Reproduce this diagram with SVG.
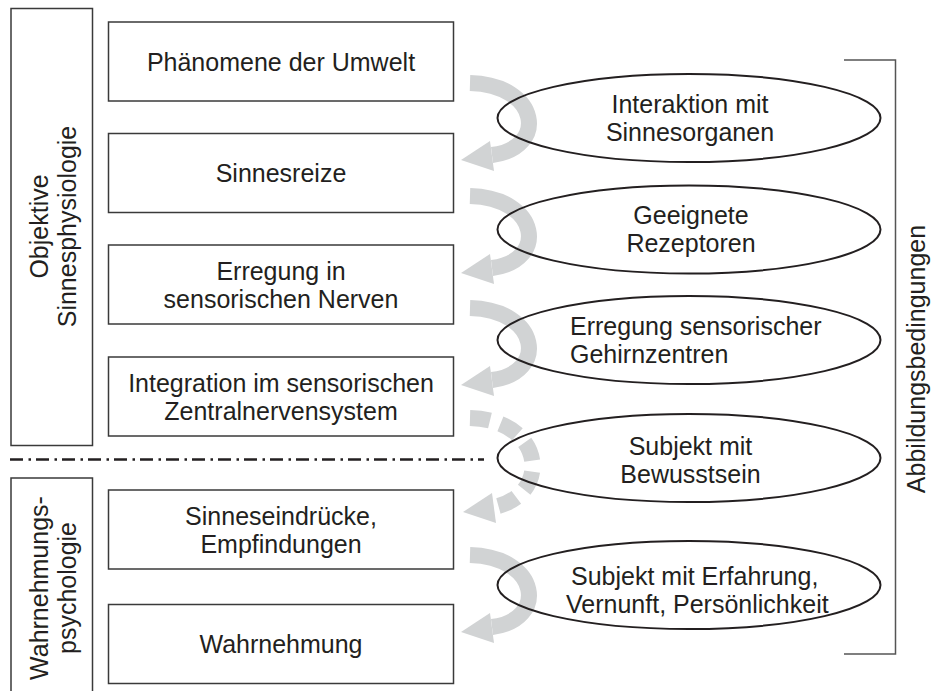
<svg xmlns="http://www.w3.org/2000/svg" width="932" height="691" viewBox="0 0 932 691">
  <defs>
    <style>
      .frame { fill: none; stroke: #3a3a3a; stroke-width: 1.5; }
      .box { fill: #ffffff; stroke: #3a3a3a; stroke-width: 1.5; }
      .oval { fill: none; stroke: #231f20; stroke-width: 2; }
      .bracket { fill: none; stroke: #555555; stroke-width: 1.5; }
      .sep { fill: none; stroke: #231f20; stroke-width: 2.3; stroke-dasharray: 13 5.5 2.5 5; }
      .band { fill: none; stroke: #d1d3d4; stroke-width: 16; }
      .band-dash { fill: none; stroke: #d1d3d4; stroke-width: 16; stroke-dasharray: 20 11; }
      .head { fill: #d1d3d4; }
      text { font-family: "Liberation Sans", Arial, sans-serif; font-size: 25px; fill: #231f20; }
      .c { text-anchor: middle; }
    </style>
    <!-- curved flow arrow, origin at the start of the band -->
    <g id="flow">
      <path class="band" d="M 0 0 C 70 2, 78 65, 22 72"/>
      <polygon class="head" points="-9,77 20,58 24,88"/>
    </g>
  </defs>

  <!-- category frames on the left -->
  <g id="objektive">
    <rect class="frame" x="11" y="8.5" width="81.5" height="437"/>
    <text class="c" transform="translate(52 226.5) rotate(-90)"><tspan x="0" y="-4">Objektive</tspan><tspan x="0" y="24">Sinnesphysiologie</tspan></text>
  </g>
  <g id="wahrnehmungspsychologie">
    <rect class="frame" x="11" y="478" width="81.5" height="230"/>
    <text class="c" transform="translate(52 588) rotate(-90)"><tspan x="0" y="-4">Wahrnehmungs-</tspan><tspan x="0" y="24">psychologie</tspan></text>
  </g>

  <!-- separator between the two domains -->
  <line class="sep" x1="10" y1="459.5" x2="484" y2="459.5"/>

  <!-- connectors -->
  <g id="connectors">
    <use href="#flow" x="470" y="83"/>
    <use href="#flow" x="470" y="196"/>
    <use href="#flow" x="470" y="308"/>
    <!-- dashed transition from physiology to perception -->
    <path class="band-dash" d="M 470 418 C 545 420, 552 495, 494 507"/>
    <polygon class="head" points="463,512 492,493 496,523"/>
    <use href="#flow" x="470" y="555"/>
  </g>

  <!-- stage boxes -->
  <g id="phaenomene">
    <rect class="box" x="108.5" y="22" width="345" height="79"/>
    <text class="c" x="281" y="70.5">Phänomene der Umwelt</text>
  </g>
  <g id="sinnesreize">
    <rect class="box" x="108.5" y="133.5" width="345" height="79"/>
    <text class="c" x="281" y="182">Sinnesreize</text>
  </g>
  <g id="erregung-nerven">
    <rect class="box" x="108.5" y="245" width="345" height="79"/>
    <text class="c" x="281" y="280">Erregung in</text>
    <text class="c" x="281" y="308">sensorischen Nerven</text>
  </g>
  <g id="integration">
    <rect class="box" x="108.5" y="357" width="345" height="79"/>
    <text class="c" x="281" y="392">Integration im sensorischen</text>
    <text class="c" x="281" y="420">Zentralnervensystem</text>
  </g>
  <g id="sinneseindruecke">
    <rect class="box" x="108.5" y="490" width="345" height="79"/>
    <text class="c" x="281" y="525">Sinneseindrücke,</text>
    <text class="c" x="281" y="553">Empfindungen</text>
  </g>
  <g id="wahrnehmung">
    <rect class="box" x="108.5" y="604.5" width="345" height="79"/>
    <text class="c" x="281" y="653">Wahrnehmung</text>
  </g>

  <!-- conditions (ellipses) -->
  <g id="interaktion">
    <ellipse class="oval" cx="689" cy="118" rx="191.5" ry="44"/>
    <text class="c" x="690" y="113">Interaktion mit</text>
    <text class="c" x="690" y="141">Sinnesorganen</text>
  </g>
  <g id="rezeptoren">
    <ellipse class="oval" cx="689" cy="229.5" rx="191.5" ry="44"/>
    <text class="c" x="691" y="224">Geeignete</text>
    <text class="c" x="691" y="252">Rezeptoren</text>
  </g>
  <g id="gehirnzentren">
    <ellipse class="oval" cx="689" cy="340" rx="191.5" ry="44"/>
    <text x="570" y="335">Erregung sensorischer</text>
    <text x="570" y="363">Gehirnzentren</text>
  </g>
  <g id="bewusstsein">
    <ellipse class="oval" cx="689" cy="458" rx="191.5" ry="44"/>
    <text class="c" x="690.5" y="455">Subjekt mit</text>
    <text class="c" x="690.5" y="483">Bewusstsein</text>
  </g>
  <g id="erfahrung">
    <ellipse class="oval" cx="689" cy="585" rx="191.5" ry="44"/>
    <text x="571" y="585">Subjekt mit Erfahrung,</text>
    <text x="566" y="613">Vernunft, Persönlichkeit</text>
  </g>

  <!-- bracket for the imaging conditions -->
  <g id="abbildungsbedingungen">
    <polyline class="bracket" points="844,60 895.5,60 895.5,654 844,654"/>
    <text class="c" transform="translate(925 359) rotate(-90)" x="0" y="0">Abbildungsbedingungen</text>
  </g>
</svg>
